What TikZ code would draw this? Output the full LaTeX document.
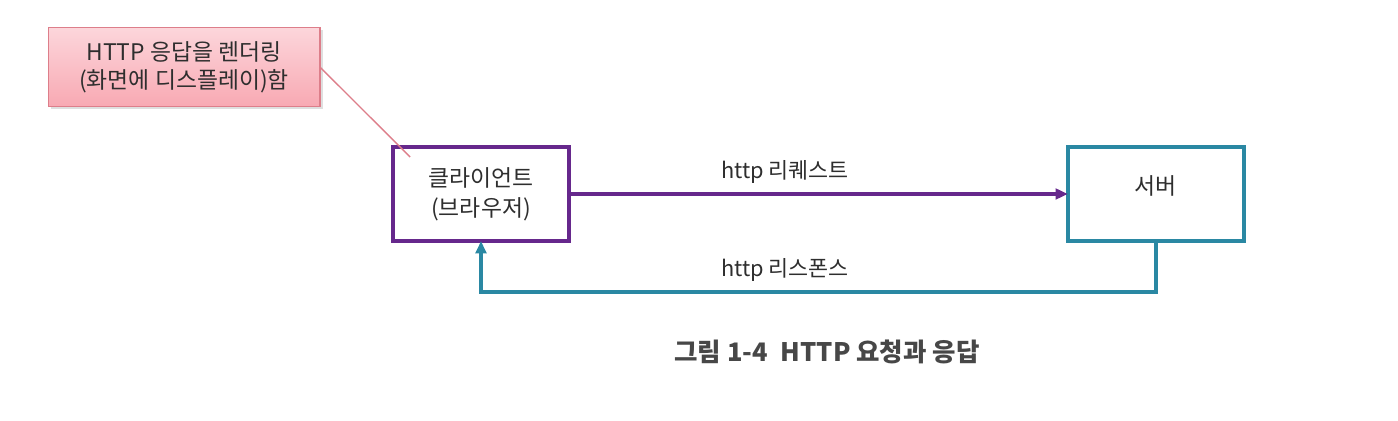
\documentclass[tikz,border=0pt]{standalone}
\usepackage{fontspec}
\setmainfont{Noto Sans CJK KR}
\usepackage{xcolor}
\usepackage{tikz}
\usetikzlibrary{arrows.meta,positioning,shadows,calc}

\definecolor{clientpurple}{HTML}{66288C}
\definecolor{serverteal}{HTML}{2A88A3}
\definecolor{notepink}{HTML}{F8A9B3}
\definecolor{notepinktop}{HTML}{FCD6DB}
\definecolor{noteedge}{HTML}{DD7E8A}
\definecolor{textgray}{HTML}{2E2E2E}

\begin{document}
\begin{tikzpicture}[
  x=0.02cm, y=-0.02cm,                % pixel-like grid, y grows downwards
  every node/.style={align=center, inner sep=1pt, text=textgray},
  >={Triangle[length=7pt,width=6pt]},
  hostbox/.style={draw, line width=2.3pt, minimum width=3.52cm, minimum height=1.88cm,
    outer sep=0pt, font=\fontsize{13}{17}\selectfont},
  notebox/.style={draw=noteedge, line width=0.6pt, top color=notepinktop, bottom color=notepink,
    minimum width=5.44cm, minimum height=1.58cm, outer sep=0pt,
    drop shadow={opacity=0.25, shadow xshift=1.5pt, shadow yshift=-1.5pt},
    font=\fontsize{13}{16}\selectfont},
  msglabel/.style={font=\fontsize{12.4}{14}\selectfont},
  reqarrow/.style={->, draw=clientpurple, line width=1.8pt},
  resparrow/.style={->, draw=serverteal, line width=2.2pt}
]
\useasboundingbox (0,0) rectangle (1398,421);

\node[notebox] (note) at (184,67) {HTTP 응답을 렌더링\\(화면에 디스플레이)함};

\node[hostbox, draw=clientpurple] (client) at (481,194) {클라이언트\\(브라우저)};
\node[hostbox, draw=serverteal, right=9.98cm of client] (server) {서버\\[-0.25cm]};

\coordinate (notetip) at ($(client.north west)+(17,10)$);
\draw[noteedge, line width=0.8pt] (note.east) -- (notetip);

\draw[reqarrow] (client.east) -- (server.west);
\draw[resparrow] (server.south) -- ++(0,51) -| (client.south);

\node[msglabel] (req) at (785,172) {http 리퀘스트};
\node[msglabel] (resp) at (785,270) {http 리스폰스};

\node[font=\fontsize{14.5}{17}\selectfont\bfseries, text=black!72] (caption) at (827,352)
  {그림 1-4\enspace HTTP 요청과 응답};
\end{tikzpicture}
\end{document}
